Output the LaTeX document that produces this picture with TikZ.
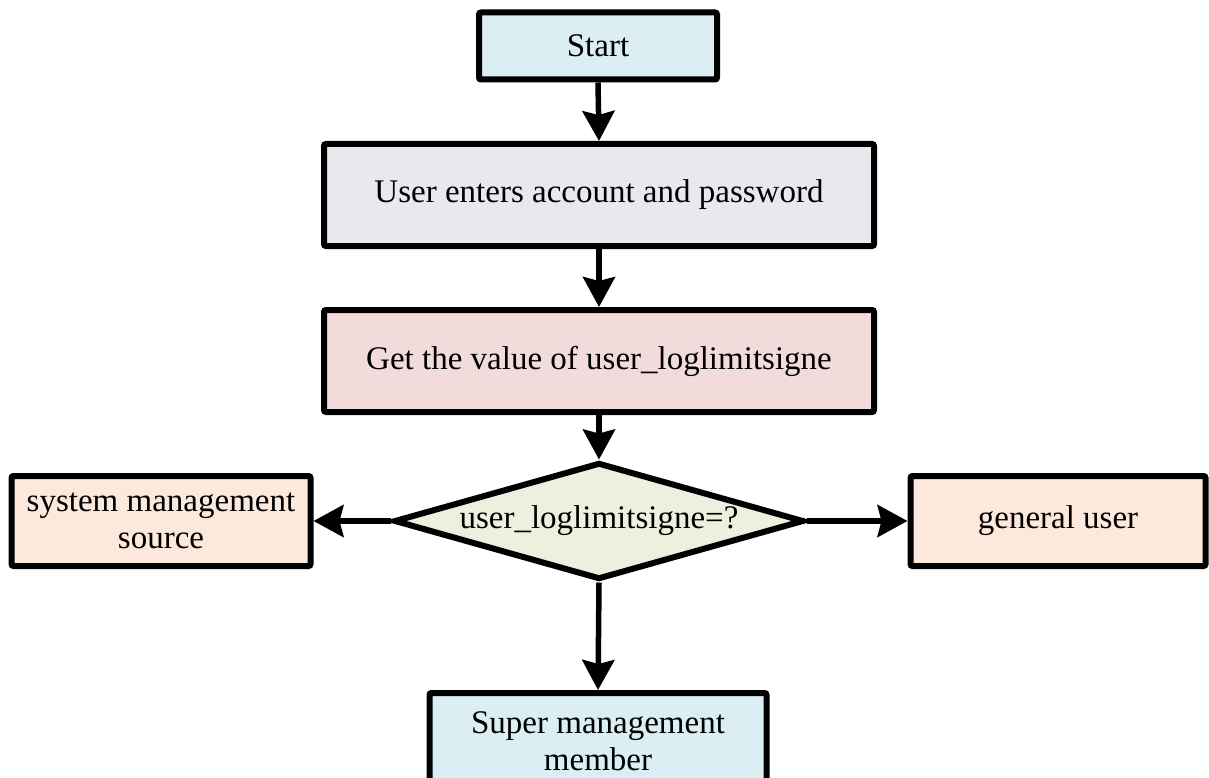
\documentclass[tikz,border=0pt]{standalone}
\usepackage{fontspec}
\setmainfont{Liberation Serif}
\usetikzlibrary{shapes.geometric,arrows.meta}
\definecolor{cblue}{HTML}{DAEEF3}
\definecolor{clav}{HTML}{EAE7EF}
\definecolor{cpink}{HTML}{F2DCDB}
\definecolor{cgreen}{HTML}{EBF1DE}
\definecolor{cpeach}{HTML}{FCE9DB}
\begin{document}
\begin{tikzpicture}[x=1pt,y=-1pt,
  box/.style={draw=black, line width=6pt, rounded corners=2pt, inner sep=0pt, align=center,
    font=\fontsize{33}{37}\selectfont},
  dec/.style={draw=black, line width=6pt, diamond, inner sep=0pt,
    font=\fontsize{33}{37}\selectfont},
  arr/.style={line width=5.5pt, -{Stealth[length=30pt, width=32pt, inset=4pt]}}
]
\useasboundingbox (0,0) rectangle (1209,778);
\node[box, fill=cblue, minimum width=238pt, minimum height=67pt] (start) at (598,46) {Start};
\node[box, fill=clav, minimum width=550pt, minimum height=102pt] (user) at (599,195) {User enters account and password};
\node[box, fill=cpink, minimum width=550pt, minimum height=102pt] (get) at (599,361) {Get the value of user\_loglimitsigne};
\node[dec, fill=cgreen, minimum width=410pt, minimum height=117pt] (dec) at (599,521) {\makebox[0pt]{user\_loglimitsigne=?}};
\node[box, fill=cpeach, minimum width=299pt, minimum height=90pt] (sys) at (161,521) {system management\\source};
\node[box, fill=cpeach, minimum width=295pt, minimum height=90pt] (gen) at (1058,521) {general user};
\node[box, fill=cblue, minimum width=337pt, minimum height=96pt] (sup) at (598,741) {Super management\\member};
\draw[arr] (start.south) -- (user.north);
\draw[arr] (user.south) -- (get.north);
\draw[arr] (get.south) -- (dec.north);
\draw[arr] (dec.west) -- (sys.east);
\draw[arr] (dec.east) -- (gen.west);
\draw[arr] (dec.south) -- (sup.north);
\end{tikzpicture}
\end{document}
